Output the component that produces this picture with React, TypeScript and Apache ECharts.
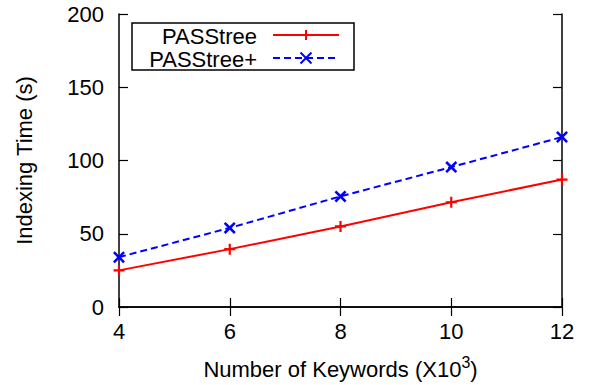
import React, { useEffect, useRef } from "react";
import * as echarts from "echarts";

const keywords = [4, 6, 8, 10, 12];
const passtree = [25, 39.5, 55, 71.5, 87];
const passtreePlus = [34, 54, 75.5, 95.5, 116];
const seriesNames = ["PASStree", "PASStree+"];
const xTitle = "Number of Keywords (X10{sup|3})";
const yTitle = "Indexing Time (s)";

const PLUS = "path://M4,0 L6,0 L6,4 L10,4 L10,6 L6,6 L6,10 L4,10 L4,6 L0,6 L0,4 L4,4 Z";
const CROSS =
  "path://M0,1.5 L1.5,0 L5,3.5 L8.5,0 L10,1.5 L6.5,5 L10,8.5 L8.5,10 L5,6.5 L1.5,10 L0,8.5 L3.5,5 Z";

const FONT = "Liberation Sans";
const FS = 22;

export default function App() {
  const ref = useRef<HTMLDivElement>(null);
  useEffect(() => {
    const chart = echarts.init(ref.current!, null, { renderer: "svg" });
    const axisCommon = {
      axisLine: { show: true, lineStyle: { color: "#000", width: 1.5 } },
      axisTick: { show: true, inside: true, length: 9, lineStyle: { color: "#000", width: 1.2 } },
      splitLine: { show: false },
    };
    const legendX0 = 132, legendY0 = 23, legendW = 222, legendH = 47;
    const rows = [
      { name: seriesNames[0], color: "#ff0000", dash: null as number[] | null, sym: "plus", y: 36 },
      { name: seriesNames[1], color: "#0000ff", dash: [7, 4], sym: "cross", y: 59 },
    ];
    const legendEls: any[] = [
      {
        type: "rect",
        shape: { x: legendX0, y: legendY0, width: legendW, height: legendH },
        style: { fill: "#fff", stroke: "#000", lineWidth: 1.5 },
        z: 100,
      },
    ];
    rows.forEach((r) => {
      legendEls.push({
        type: "text",
        x: 257,
        y: r.y,
        style: { text: r.name, fontFamily: FONT, fontSize: FS, fill: "#000", align: "right", verticalAlign: "middle" },
        z: 101,
      });
      legendEls.push({
        type: "line",
        shape: { x1: 273, y1: r.y - 1, x2: 339, y2: r.y - 1 },
        style: { stroke: r.color, lineWidth: 2, lineDash: r.dash || undefined },
        z: 101,
      });
      const cx = 306, cy = r.y - 1, h = r.sym === "plus" ? 5 : 5.5;
      if (r.sym === "plus") {
        legendEls.push({ type: "line", shape: { x1: cx - h, y1: cy, x2: cx + h, y2: cy }, style: { stroke: r.color, lineWidth: 2 }, z: 102 });
        legendEls.push({ type: "line", shape: { x1: cx, y1: cy - h, x2: cx, y2: cy + h }, style: { stroke: r.color, lineWidth: 2 }, z: 102 });
      } else {
        legendEls.push({ type: "line", shape: { x1: cx - h, y1: cy - h, x2: cx + h, y2: cy + h }, style: { stroke: r.color, lineWidth: 2 }, z: 102 });
        legendEls.push({ type: "line", shape: { x1: cx - h, y1: cy + h, x2: cx + h, y2: cy - h }, style: { stroke: r.color, lineWidth: 2 }, z: 102 });
      }
    });

    chart.setOption({
      animation: false,
      backgroundColor: "#fff",
      textStyle: { fontFamily: FONT },
      grid: { left: 119, right: 27, top: 14, bottom: 77 },
      xAxis: [
        {
          type: "value",
          min: 4,
          max: 12,
          interval: 2,
          ...axisCommon,
          axisLabel: { fontSize: FS, color: "#000", margin: 13, fontFamily: FONT },
          name: xTitle,
          nameLocation: "middle",
          nameGap: 47,
          nameTextStyle: {
            fontSize: FS,
            color: "#000",
            fontFamily: FONT,
            rich: { sup: { fontSize: 16, verticalAlign: "top", padding: [0, 0, 14, 0], color: "#000", fontFamily: FONT } },
          },
        },
        {
          type: "value",
          position: "top",
          min: 4,
          max: 12,
          interval: 2,
          ...axisCommon,
          axisLabel: { show: false },
        },
      ],
      yAxis: [
        {
          type: "value",
          min: 0,
          max: 200,
          interval: 50,
          ...axisCommon,
          axisLabel: { fontSize: FS, color: "#000", margin: 15, fontFamily: FONT },
          name: yTitle,
          nameLocation: "middle",
          nameGap: 84,
          nameTextStyle: { fontSize: FS, color: "#000", fontFamily: FONT },
        },
        {
          type: "value",
          position: "right",
          min: 0,
          max: 200,
          interval: 50,
          ...axisCommon,
          axisLabel: { show: false },
        },
      ],
      series: [
        {
          name: seriesNames[0],
          type: "line",
          data: keywords.map((k, i) => [k, passtree[i]]),
          symbol: PLUS,
          symbolSize: 11,
          showSymbol: true,
          lineStyle: { color: "#ff0000", width: 2 },
          itemStyle: { color: "#ff0000" },
          clip: false,
          z: 3,
        },
        {
          name: seriesNames[1],
          type: "line",
          data: keywords.map((k, i) => [k, passtreePlus[i]]),
          symbol: CROSS,
          symbolSize: 12,
          showSymbol: true,
          lineStyle: { color: "#0000ff", width: 2, type: [7, 4] },
          itemStyle: { color: "#0000ff" },
          clip: false,
          z: 3,
        },
      ],
      graphic: legendEls,
    });
    return () => chart.dispose();
  }, []);
  return <div ref={ref} style={{ position: "fixed", left: 0, top: 0, width: 589, height: 385 }} />;
}
